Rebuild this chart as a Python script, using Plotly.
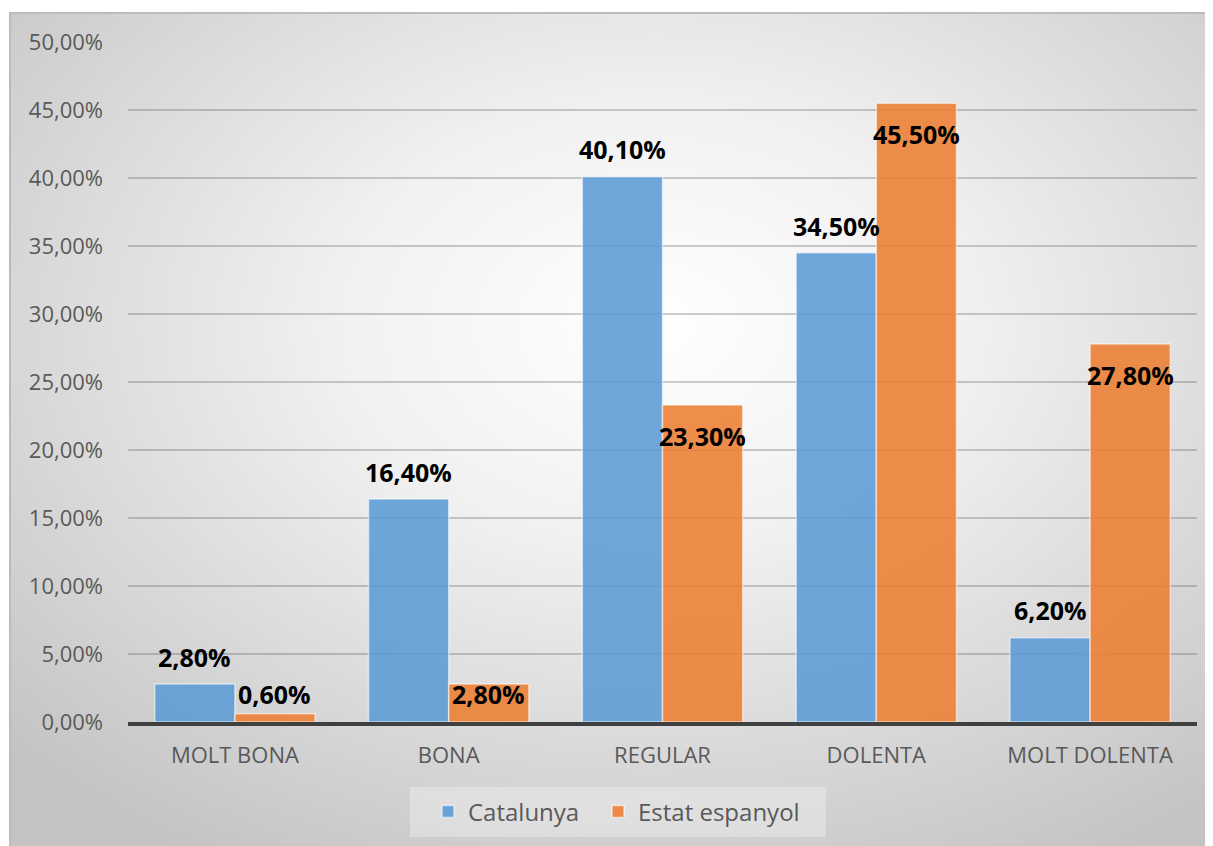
import base64
import plotly.graph_objects as go

categories = ["MOLT BONA", "BONA", "REGULAR", "DOLENTA", "MOLT DOLENTA"]
catalunya = [2.8, 16.4, 40.1, 34.5, 6.2]
estat = [0.6, 2.8, 23.3, 45.5, 27.8]
series_names = ["Catalunya", "Estat espanyol"]
y_ticks = [0, 5, 10, 15, 20, 25, 30, 35, 40, 45, 50]

W, H = 1213, 846
ML, MR, MT, MB = 120, 24, 34, 132
PW, PH = W - ML - MR, H - MT - MB
PB = H - MB  # plot bottom pixel
FONT = "Open Sans"
BARGAP = 0.25


def fmt(v):
    return f"{v:.2f}".replace(".", ",") + "%"


def px_x(p):
    return (p - ML) / PW


def px_y(p):
    return (PB - p) / PH


fig = go.Figure()
fig.add_trace(go.Bar(
    name=series_names[0], x=categories, y=catalunya, legend="legend",
    marker=dict(color="rgba(91,155,213,0.88)",
                line=dict(color="rgba(255,255,255,0.55)", width=1.5)),
    hoverinfo="skip"))
fig.add_trace(go.Bar(
    name=series_names[1], x=categories, y=estat, legend="legend2",
    marker=dict(color="rgba(237,125,49,0.88)",
                line=dict(color="rgba(255,255,255,0.55)", width=1.5)),
    hoverinfo="skip"))

# data labels
half = (1 - BARGAP) / 4
lab_font = dict(family=FONT, size=25, color="#000000", weight="bold")
ann = []
for i, v in enumerate(catalunya):
    ann.append(dict(x=i - half, y=v + 2.0, xref="x", yref="y", text=fmt(v),
                    showarrow=False, yanchor="middle", font=lab_font))
for i, v in enumerate(estat):
    ann.append(dict(x=i + half, y=max(v - 2.3, 2.05), xref="x", yref="y", text=fmt(v),
                    showarrow=False, yanchor="middle", font=lab_font))

# background gradient (chart area) as an image
bx0, by0 = 1, 4
bw, bh = W - bx0 + 20, H - by0 + 20
svg = (f'<svg xmlns="http://www.w3.org/2000/svg" width="{bw}" height="{bh}" '
       f'viewBox="0 0 {bw} {bh}" preserveAspectRatio="none">'
       '<defs><radialGradient id="g" cx="52%" cy="36%" r="72%">'
       '<stop offset="0" stop-color="#ffffff"/>'
       '<stop offset="0.35" stop-color="#f1f1f1"/>'
       '<stop offset="1" stop-color="#c3c3c3"/>'
       '</radialGradient></defs>'
       f'<rect x="1" y="1" width="{bw + 4}" height="{bh + 4}" fill="url(#g)" '
       'stroke="#bcbcbc" stroke-width="2"/></svg>')
src = "data:image/svg+xml;base64," + base64.b64encode(svg.encode()).decode()

# legend box (fig pixel coords)
LX0, LX1, LY0, LY1 = 402, 818, 779, 829
LYC = (LY0 + LY1) / 2
leg_common = dict(orientation="h", yanchor="middle", y=px_y(LYC), xanchor="left",
                  bgcolor="rgba(0,0,0,0)", borderwidth=0, itemwidth=30,
                  font=dict(family=FONT, size=24, color="#595959"))

fig.update_layout(
    width=W, height=H,
    margin=dict(l=ML, r=MR, t=MT, b=MB, pad=0),
    paper_bgcolor="#ffffff",
    plot_bgcolor="rgba(0,0,0,0)",
    separators=",.",
    barmode="group", bargap=BARGAP, bargroupgap=0,
    font=dict(family=FONT, size=22, color="#595959"),
    images=[dict(source=src, xref="paper", yref="paper",
                 x=px_x(bx0), y=px_y(by0),
                 sizex=bw / PW, sizey=bh / PH,
                 xanchor="left", yanchor="top", sizing="stretch", layer="below")],
    shapes=[dict(type="rect", xref="paper", yref="paper",
                 x0=px_x(LX0), x1=px_x(LX1), y0=px_y(LY1), y1=px_y(LY0),
                 fillcolor="rgba(255,255,255,0.3)", line=dict(width=0), layer="below")],
    annotations=ann,
    legend=dict(x=px_x(420), **leg_common),
    legend2=dict(x=px_x(590), **leg_common),
    showlegend=True,
)
fig.update_xaxes(showline=True, linecolor="#404040", linewidth=4,
                 showgrid=False, ticks="", ticklabelstandoff=11,
                 tickfont=dict(family=FONT, size=22, color="#595959"),
                 fixedrange=True)
fig.update_yaxes(range=[0, 50], tickvals=y_ticks, ticktext=[fmt(t) for t in y_ticks],
                 showgrid=True, gridcolor="rgba(90,90,90,0.3)", gridwidth=1.5,
                 zeroline=False, showline=False, ticks="", ticklabelstandoff=24,
                 tickfont=dict(family=FONT, size=22, color="#595959"),
                 fixedrange=True)

fig.write_html("out.html")
